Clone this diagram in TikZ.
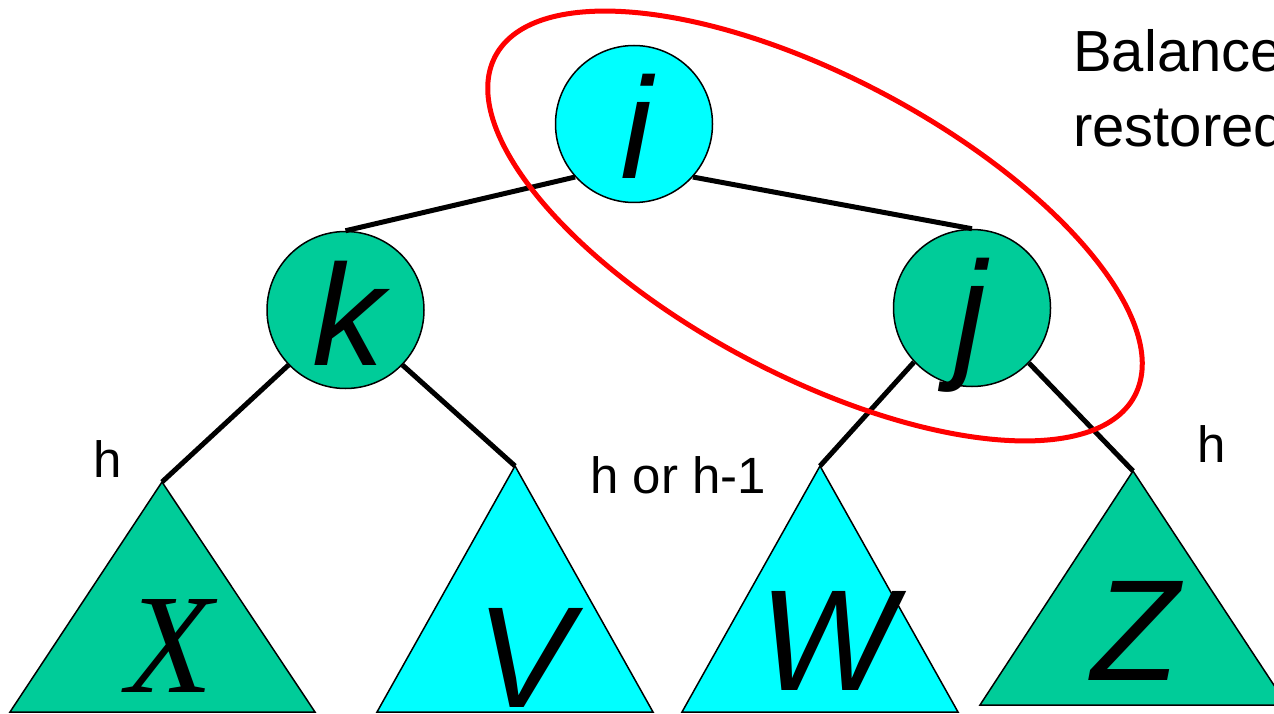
\documentclass[tikz,border=0pt]{standalone}
\usepackage{fontspec}
\setmainfont{Liberation Sans}
\newfontfamily\timesfont{Liberation Serif}
\definecolor{nodecyan}{RGB}{0,255,255}
\definecolor{nodegreen}{RGB}{0,204,153}
\definecolor{ringred}{RGB}{255,0,0}
\begin{document}
\begin{tikzpicture}[x=1pt,y=-1pt,
  treenode/.style={circle, draw=black, line width=1.5pt, minimum size=157pt, inner sep=0pt},
  link/.style={line width=5pt, draw=black},
  subtree/.style={draw=black, line width=1.5pt, line join=miter},
  biglabel/.style={font=\fontsize{144}{144}\selectfont\itshape, inner sep=0pt, anchor=base},
  seriflabel/.style={font=\timesfont\fontsize{142}{142}\selectfont\itshape, inner sep=0pt, anchor=base},
  hlabel/.style={font=\fontsize{51}{51}\selectfont, inner sep=0pt, anchor=base},
  caplabel/.style={font=\fontsize{58}{58}\selectfont, inner sep=0pt, anchor=base west},
  ring/.style={draw=ringred, line width=5pt}]
\useasboundingbox (0,0) rectangle (1274,714);
\clip (0,0) rectangle (1274,714);
% tree nodes
\node[treenode, fill=nodecyan] (i) at (634,124) {};
\node[treenode, fill=nodegreen] (k) at (345.5,310) {};
\node[treenode, fill=nodegreen] (j) at (972,308) {};
% subtree apexes
\coordinate (xa) at (162,482);
\coordinate (va) at (515,466);
\coordinate (wa) at (820,466);
\coordinate (za) at (1133,471);
% subtrees
\filldraw[subtree, fill=nodegreen] (xa) -- (10,712) -- (315,712) -- cycle;
\filldraw[subtree, fill=nodecyan] (va) -- (377,712) -- (653,712) -- cycle;
\filldraw[subtree, fill=nodecyan] (wa) -- (682,712) -- (958,712) -- cycle;
\filldraw[subtree, fill=nodegreen] (za) -- (980,705) -- (1287,705) -- cycle;
% links
\draw[link] (i.222) -- (k.north);
\draw[link] (i.318) -- (j.north);
\draw[link] (k.224) -- (xa);
\draw[link] (k.316) -- (va);
\draw[link] (j.223) -- (wa);
\draw[link] (j.316) -- (za);
% node letters
\node[biglabel] (iL) at (636,179) {i};
\node[biglabel] (kL) at (348,365) {k};
\node[biglabel] (jL) at (970,362) {j};
% subtree letters
\node[seriflabel] (xL) at (170,692) {X};
\node[biglabel] (vL) at (525,707) {V};
\node[biglabel] (wL) at (827,690) {W};
\node[biglabel] (zL) at (1135,680) {Z};
% height labels
\node[hlabel] (h1) at (107.5,477) {h};
\node[hlabel, anchor=base west] (h2) at (590,493) {h or h-1};
\node[hlabel] (h3) at (1211.5,462) {h};
% caption
\node[caplabel] (cap1) at (1073,72) {Balance};
\node[caplabel] (cap2) at (1073,147) {restored};
% red ring
\draw[ring, shift={(815,226)}, rotate=-28] (0,0) ellipse (362pt and 149pt);
\end{tikzpicture}
\end{document}
